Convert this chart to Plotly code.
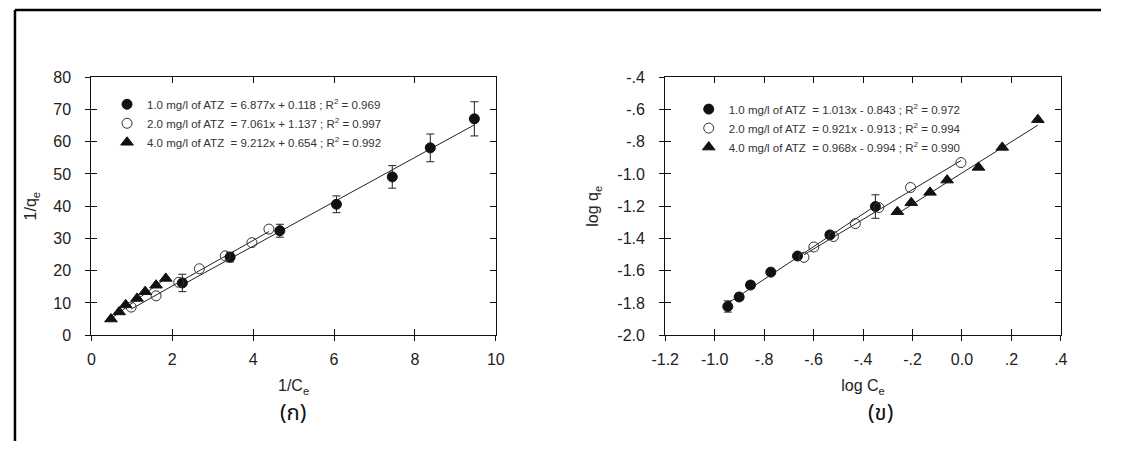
import plotly.graph_objects as go

# The page keeps the browser's default 8 px body margin, so the figure is made
# 16 px smaller than the window and all layout positions are page pixels - 8.
PAGE_W, PAGE_H = 1126, 466
M = 8
W, H = PAGE_W - 2 * M, PAGE_H - 2 * M


def px(x):
    return (x - M) / W


def py(y):
    return 1 - (y - M) / H


# ---------------- Data: panel (ก)  1/qe vs 1/Ce ----------------
left_names = [
    "1.0 mg/l of ATZ  = 6.877x + 0.118 ; R<sup>2</sup> = 0.969",
    "2.0 mg/l of ATZ  = 7.061x + 1.137 ; R<sup>2</sup> = 0.997",
    "4.0 mg/l of ATZ  = 9.212x + 0.654 ; R<sup>2</sup> = 0.992",
]
left_slope = [6.877, 7.061, 9.212]
left_icpt = [0.118, 1.137, 0.654]

l1_x = [2.25, 3.43, 4.66, 6.06, 7.44, 8.38, 9.47]
l1_y = [16.2, 24.2, 32.4, 40.6, 49.1, 58.1, 67.1]
l1_err = [2.7, 1.5, 2.0, 2.6, 3.5, 4.3, 5.3]

l2_x = [0.985, 1.60, 2.16, 2.67, 3.31, 3.97, 4.39]
l2_y = [8.7, 12.2, 16.4, 20.6, 24.6, 28.7, 32.9]

l3_x = [0.485, 0.687, 0.848, 1.13, 1.33, 1.60, 1.84]
l3_y = [5.0, 7.2, 9.4, 11.4, 13.5, 15.5, 17.6]

left_xticks = [0, 2, 4, 6, 8, 10]
left_yticks = [0, 10, 20, 30, 40, 50, 60, 70, 80]

# ---------------- Data: panel (ข)  log qe vs log Ce ----------------
right_names = [
    "1.0 mg/l of ATZ  = 1.013x - 0.843 ; R<sup>2</sup> = 0.972",
    "2.0 mg/l of ATZ  = 0.921x - 0.913 ; R<sup>2</sup> = 0.994",
    "4.0 mg/l of ATZ  = 0.968x - 0.994 ; R<sup>2</sup> = 0.990",
]
right_slope = [1.013, 0.921, 0.968]
right_icpt = [-0.843, -0.913, -0.994]

r1_x = [-0.947, -0.901, -0.855, -0.773, -0.665, -0.534, -0.350]
r1_y = [-1.822, -1.763, -1.689, -1.609, -1.509, -1.378, -1.202]
r1_err = [0.035, 0.022, 0.02, 0.015, 0.012, 0.015, 0.073]

r2_x = [-0.639, -0.599, -0.520, -0.431, -0.336, -0.208, -0.004]
r2_y = [-1.517, -1.453, -1.388, -1.308, -1.208, -1.084, -0.929]

r3_x = [-0.261, -0.205, -0.129, -0.060, 0.067, 0.163, 0.307]
r3_y = [-1.234, -1.178, -1.114, -1.038, -0.959, -0.835, -0.663]

right_xticks = [-1.2, -1.0, -0.8, -0.6, -0.4, -0.2, 0.0, 0.2, 0.4]
right_xtext = ["-1.2", "-1.0", "-.8", "-.6", "-.4", "-.2", "0.0", ".2", ".4"]
right_yticks = [-2.0, -1.8, -1.6, -1.4, -1.2, -1.0, -0.8, -0.6, -0.4]
right_ytext = ["-2.0", "-1.8", "-1.6", "-1.4", "-1.2", "-1.0", "-.8", "-.6", "-.4"]

panel_labels = ["(ก)", "(ข)"]

# ---------------- Styles ----------------
FONT = "Liberation Sans, Arial, sans-serif"
marker_styles = [
    dict(symbol="circle", size=10, color="#111111", line=dict(color="#111111", width=1)),
    dict(symbol="circle-open", size=10, color="#333333", line=dict(width=1)),
    dict(symbol="triangle-up", size=11, color="#111111", line=dict(color="#111111", width=1)),
]

fig = go.Figure()


def add_panel(xax, yax, legend, series, names, slopes, icpts):
    for i, (xs, ys, err) in enumerate(series):
        # regression line over the data range
        x0, x1 = min(xs), max(xs)
        fig.add_trace(go.Scatter(
            x=[x0, x1], y=[slopes[i] * x0 + icpts[i], slopes[i] * x1 + icpts[i]],
            mode="lines", line=dict(color="#222222", width=1),
            xaxis=xax, yaxis=yax, showlegend=False, hoverinfo="skip"))
    for i, (xs, ys, err) in enumerate(series):
        tr = go.Scatter(
            x=xs, y=ys, mode="markers", name=names[i], marker=marker_styles[i],
            xaxis=xax, yaxis=yax, legend=legend)
        if err is not None:
            tr.error_y = dict(type="data", array=err, visible=True,
                              color="#222222", thickness=1, width=4)
        fig.add_trace(tr)


add_panel("x", "y", "legend",
          [(l1_x, l1_y, l1_err), (l2_x, l2_y, None), (l3_x, l3_y, None)],
          left_names, left_slope, left_icpt)
add_panel("x2", "y2", "legend2",
          [(r1_x, r1_y, r1_err), (r2_x, r2_y, None), (r3_x, r3_y, None)],
          right_names, right_slope, right_icpt)

# empty traces to create the overlay (inside tick) subplots
for xa, ya in [("x3", "y"), ("x", "y3"), ("x4", "y2"), ("x2", "y4")]:
    fig.add_trace(go.Scatter(x=[], y=[], xaxis=xa, yaxis=ya, showlegend=False,
                             hoverinfo="skip"))

dxL = [px(87), px(500)]
dxR = [px(673), px(1077)]
dy = [py(348), py(80)]

main_ax = dict(showline=True, linecolor="#111111", linewidth=1.2, mirror=True,
               ticks="outside", ticklen=5, tickwidth=1, tickcolor="#111111",
               showgrid=False, zeroline=False,
               tickfont=dict(family=FONT, size=16, color="#222222"),
               title_font=dict(family=FONT, size=16, color="#222222"))
x_ax = dict(main_ax, ticklabelstandoff=5)
y_ax = dict(main_ax, ticklabelstandoff=11)
over_ax = dict(showline=False, ticks="inside", ticklen=6, tickwidth=1,
               tickcolor="#111111", mirror="ticks", showgrid=False,
               zeroline=False, showticklabels=False)

fig.update_layout(
    width=W, height=H, margin=dict(l=0, r=0, t=0, b=0),
    paper_bgcolor="white", plot_bgcolor="white",
    xaxis=dict(x_ax, domain=dxL, anchor="y", range=[0, 10],
               tickvals=left_xticks, title=dict(text="1/C<sub>e</sub>", standoff=12)),
    yaxis=dict(y_ax, domain=dy, anchor="x", range=[0, 80],
               tickvals=left_yticks, title=dict(text="1/q<sub>e</sub>", standoff=12)),
    xaxis3=dict(over_ax, domain=dxL, anchor="y", overlaying="x", matches="x",
                tickvals=left_xticks),
    yaxis3=dict(over_ax, domain=dy, anchor="x", overlaying="y", matches="y",
                tickvals=left_yticks),
    xaxis2=dict(x_ax, domain=dxR, anchor="y2", range=[-1.2, 0.4],
                tickvals=right_xticks, ticktext=right_xtext,
                title=dict(text="log C<sub>e</sub>", standoff=12)),
    yaxis2=dict(y_ax, domain=dy, anchor="x2", range=[-2.0, -0.4],
                tickvals=right_yticks, ticktext=right_ytext,
                title=dict(text="log q<sub>e</sub>", standoff=14)),
    xaxis4=dict(over_ax, domain=dxR, anchor="y2", overlaying="x2", matches="x2",
                tickvals=right_xticks),
    yaxis4=dict(over_ax, domain=dy, anchor="x2", overlaying="y2", matches="y2",
                tickvals=right_yticks),
    legend=dict(x=px(103), y=py(93), xanchor="left", yanchor="top",
                bgcolor="rgba(0,0,0,0)", tracegroupgap=0,
                font=dict(family=FONT, size=11.5, color="#333333")),
    legend2=dict(x=px(697), y=py(98), xanchor="left", yanchor="top",
                 bgcolor="rgba(0,0,0,0)", tracegroupgap=0,
                 font=dict(family=FONT, size=11.5, color="#333333")),
    showlegend=True,
)

# panel labels
for lab, cx in zip(panel_labels, [293, 893]):
    fig.add_annotation(text=lab, x=px(cx), y=py(429), xref="paper", yref="paper",
                       showarrow=False, xanchor="center", yanchor="middle",
                       font=dict(family="Noto Sans Thai, Tahoma, DejaVu Sans, sans-serif",
                                 size=22, color="#111111"))

# outer frame (top and left edges)
fig.add_shape(type="line", xref="paper", yref="paper", x0=px(9), x1=1,
              y0=py(10), y1=py(10), line=dict(color="black", width=2.5))
fig.add_shape(type="line", xref="paper", yref="paper", x0=px(9), x1=px(9),
              y0=0, y1=py(10), line=dict(color="black", width=2.5))

fig.write_html("out.html")
